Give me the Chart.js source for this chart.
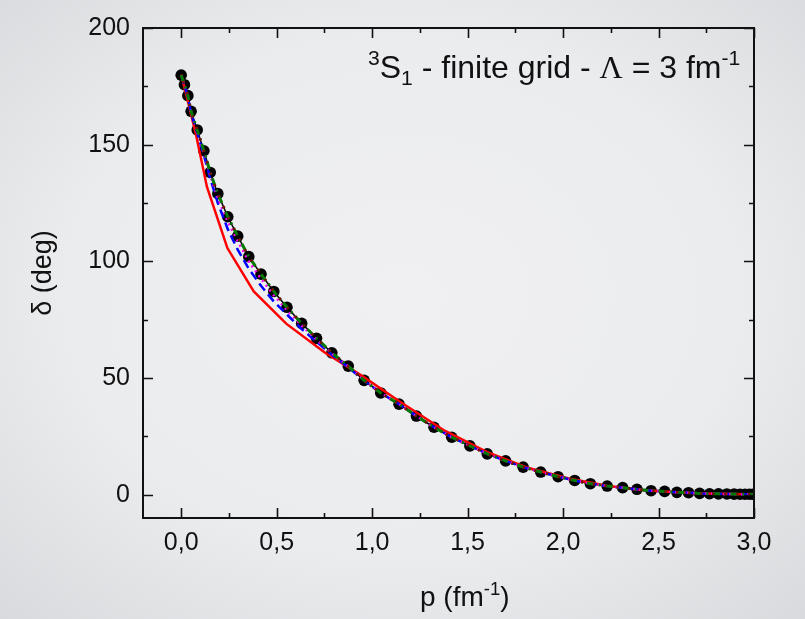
<!DOCTYPE html>
<html>
<head>
<meta charset="utf-8">
<script src="https://cdn.jsdelivr.net/npm/chart.js@4.4.0/dist/chart.umd.min.js"></script>
<style>
  html, body { margin: 0; padding: 0; width: 805px; height: 619px; overflow: hidden; }
  body {
    background: radial-gradient(ellipse 72% 72% at 50% 48%, #f0f0f2 0%, #ebecee 58%, #d9dadd 100%);
    font-family: "Liberation Sans", Arial, sans-serif;
    color: #111;
  }
  #wrap { position: relative; width: 805px; height: 619px; }
  #chart { position: absolute; left: 0; top: 0; }
  .note { position: absolute; white-space: nowrap; line-height: 1; }
  .note sup, .note sub { font-size: 0.66em; position: relative; vertical-align: baseline; }
  .note sup { top: -0.6em; }
  .note sub { top: 0.34em; }
  .sym { font-family: "Liberation Serif", "DejaVu Serif", serif; }
  #label { left: 368px; top: 51px; font-size: 32px; }
  #xtitle { left: 420px; top: 583px; font-size: 28px; }
</style>
</head>
<body>
<div id="wrap">
  <canvas id="chart" width="805" height="619"></canvas>
  <div id="label" class="note"><sup>3</sup>S<sub>1</sub> - finite grid - <span class="sym">&Lambda;</span> = 3 fm<sup>-1</sup></div>
  <div id="xtitle" class="note">p (fm<sup>-1</sup>)</div>
</div>
<script>
// momentum grid (fm^-1) of the fine calculation
const pFine = [0.000, 0.017, 0.035, 0.052, 0.084, 0.119, 0.152, 0.192, 0.244, 0.296,
  0.354, 0.418, 0.485, 0.554, 0.631, 0.709, 0.789, 0.875, 0.958, 1.045,
  1.141, 1.232, 1.324, 1.417, 1.512, 1.603, 1.699, 1.791, 1.883, 1.974,
  2.061, 2.143, 2.231, 2.312, 2.387, 2.461, 2.532, 2.596, 2.657, 2.715,
  2.767, 2.814, 2.858, 2.896, 2.927, 2.953, 2.976, 2.994];

// phase shifts (deg)
const deltaExact = [179.8, 175.7, 171.0, 164.3, 156.3, 147.4, 138.1, 129.0, 119.1, 110.8,
  102.0, 94.5, 87.1, 80.3, 73.4, 67.0, 60.8, 55.1, 49.0, 43.6,
  38.8, 33.7, 28.9, 24.6, 20.9, 17.5, 14.5, 11.8, 9.7, 7.7,
  6.1, 4.7, 3.7, 3.0, 2.3, 1.7, 1.4, 1.0, 0.85, 0.55,
  0.4, 0.35, 0.3, 0.25, 0.2, 0.2, 0.2, 0.2];

const deltaBlue = [179.8, 175.5, 170.5, 163.5, 155.0, 145.5, 135.5, 125.0, 113.8, 105.0,
  96.8, 89.5, 82.8, 77.2, 71.0, 65.5, 60.0, 54.6, 48.9, 43.6,
  38.8, 33.7, 28.9, 24.6, 20.9, 17.5, 14.5, 11.8, 9.7, 7.7,
  6.1, 4.7, 3.7, 3.0, 2.3, 1.7, 1.4, 1.0, 0.85, 0.55,
  0.4, 0.35, 0.3, 0.25, 0.2, 0.2, 0.2, 0.2];

const deltaMagenta = [179.8, 175.6, 170.8, 163.8, 155.6, 146.4, 136.8, 127.3, 117.0, 108.7,
  100.0, 92.6, 85.5, 79.0, 72.5, 66.4, 60.5, 55.0, 49.0, 43.6,
  38.8, 33.7, 28.9, 24.6, 20.9, 17.5, 14.5, 11.8, 9.7, 7.7,
  6.1, 4.7, 3.7, 3.0, 2.3, 1.7, 1.4, 1.0, 0.85, 0.55,
  0.4, 0.35, 0.3, 0.25, 0.2, 0.2, 0.2, 0.2];

const deltaGreen = [179.8, 175.7, 171.0, 164.3, 156.3, 147.4, 138.1, 129.0, 119.1, 110.8,
  102.0, 94.5, 87.1, 80.3, 73.4, 67.0, 60.8, 55.1, 49.0, 43.6,
  38.8, 33.7, 28.9, 24.6, 20.9, 17.5, 14.5, 11.8, 9.7, 7.7,
  6.1, 4.7, 3.7, 3.0, 2.3, 1.7, 1.4, 1.0, 0.85, 0.55,
  0.4, 0.35, 0.3, 0.25, 0.2, 0.2, 0.2, 0.2];

const deltaMaroon = [179.8, 175.7, 171.0, 164.3, 156.3, 147.4, 138.1, 129.0, 119.1, 110.8,
  102.0, 94.5, 87.1, 80.3, 73.4, 67.0, 60.8, 55.1, 49.0, 43.6,
  38.8, 33.7, 28.9, 24.6, 20.9, 17.5, 14.5, 11.8, 9.7, 7.7,
  6.1, 4.7, 3.7, 3.0, 2.3, 1.7, 1.4, 1.0, 0.85, 0.55,
  0.4, 0.35, 0.3, 0.25, 0.2, 0.2, 0.2, 0.2];

// coarse grid (red curve)
const pCoarse = [0.000, 0.025, 0.079, 0.135, 0.242, 0.380, 0.550, 0.750, 0.945, 1.150,
  1.380, 1.600, 1.820, 2.030, 2.230, 2.410, 2.570, 2.700, 2.810, 2.900, 2.960, 2.995];
const deltaRed = [180.0, 172.0, 153.8, 131.9, 105.7, 87.1, 73.3, 61.0, 51.0, 39.6,
  27.4, 18.3, 11.4, 6.9, 3.8, 2.0, 1.1, 0.6, 0.35, 0.25, 0.2, 0.2];

const xMajor = [0, 0.5, 1.0, 1.5, 2.0, 2.5, 3.0];
const xMinor = [0.25, 0.75, 1.25, 1.75, 2.25, 2.75];
const yMajor = [0, 50, 100, 150, 200];
const yMinor = [25, 75, 125, 175];

const pts = (xs, ys) => xs.map((x, i) => ({ x, y: ys[i] }));

// closed frame with inward ticks on all four sides
const frameTicks = {
  id: 'frameTicks',
  afterDatasetsDraw(chart) {
    const { ctx, chartArea: a, scales: { x, y } } = chart;
    ctx.save();
    ctx.strokeStyle = '#111';
    ctx.lineWidth = 1.6;
    ctx.beginPath();
    const tick = (vals, len) => {
      vals.forEach((v) => {
        const px = Math.round(x.getPixelForValue(v)) + 0.5;
        ctx.moveTo(px, a.bottom); ctx.lineTo(px, a.bottom - len);
        ctx.moveTo(px, a.top); ctx.lineTo(px, a.top + len);
      });
    };
    const tickY = (vals, len) => {
      vals.forEach((v) => {
        const py = Math.round(y.getPixelForValue(v)) + 0.5;
        ctx.moveTo(a.left, py); ctx.lineTo(a.left + len, py);
        ctx.moveTo(a.right, py); ctx.lineTo(a.right - len, py);
      });
    };
    tick(xMajor, 10); tick(xMinor, 5);
    tickY(yMajor, 10); tickY(yMinor, 5);
    ctx.stroke();
    ctx.lineWidth = 2;
    ctx.strokeRect(a.left, a.top, a.right - a.left, a.bottom - a.top);
    ctx.restore();
  }
};

const fmt = (v) => v.toFixed(1).replace('.', ',');

new Chart(document.getElementById('chart'), {
  type: 'scatter',
  data: {
    datasets: [
      { label: 'exact', data: pts(pFine, deltaExact), showLine: true, order: 10,
        borderColor: '#000', borderWidth: 1.5, pointRadius: 5.8, pointBackgroundColor: '#000',
        pointBorderColor: '#000', pointBorderWidth: 0 },
      { label: 'coarse', data: pts(pCoarse, deltaRed), showLine: true, order: 6,
        borderColor: '#ff0000', borderWidth: 2.5, pointRadius: 0 },
      { label: 'blue', data: pts(pFine, deltaBlue), showLine: true, order: 5,
        borderColor: '#0000ff', borderWidth: 2.5, borderDash: [9, 5], pointRadius: 0 },
      { label: 'magenta', data: pts(pFine, deltaMagenta), showLine: true, order: 4,
        borderColor: '#ff00ff', borderWidth: 2.5, borderDash: [2, 4], pointRadius: 0 },
      { label: 'green', data: pts(pFine, deltaGreen), showLine: true, order: 3,
        borderColor: '#007a00', borderWidth: 3, borderDash: [8, 4, 2, 4], pointRadius: 0 },
      { label: 'maroon', data: pts(pFine, deltaMaroon), showLine: true, order: 2,
        borderColor: '#8b0000', borderWidth: 2.5, borderDash: [2, 10], borderDashOffset: 6, pointRadius: 0 }
    ]
  },
  options: {
    responsive: false,
    animation: false,
    layout: { padding: { left: 0, right: 51, top: 26, bottom: 0 } },
    plugins: { legend: { display: false }, tooltip: { enabled: false } },
    scales: {
      x: {
        type: 'linear', min: -0.2, max: 3.0,
        afterBuildTicks: (s) => { s.ticks = xMajor.map((v) => ({ value: v })); },
        afterFit: (s) => { s.height = 101; },
        grid: { display: false, drawTicks: false },
        border: { display: false },
        ticks: { padding: 10, color: '#111', maxRotation: 0, autoSkip: false,
          font: { family: '"Liberation Sans", Arial, sans-serif', size: 25 },
          callback: (v) => fmt(v) }
      },
      y: {
        type: 'linear', min: -10, max: 200,
        afterBuildTicks: (s) => { s.ticks = yMajor.map((v) => ({ value: v })); },
        afterFit: (s) => { s.width = 143; },
        grid: { display: false, drawTicks: false },
        border: { display: false },
        ticks: { padding: 13, color: '#111', autoSkip: false,
          font: { family: '"Liberation Sans", Arial, sans-serif', size: 25 } },
        title: { display: true, text: 'δ (deg)', color: '#111', padding: { top: 27, bottom: 0 },
          font: { family: '"Liberation Sans", Arial, sans-serif', size: 27 } }
      }
    }
  },
  plugins: [frameTicks]
});
</script>
</body>
</html>
